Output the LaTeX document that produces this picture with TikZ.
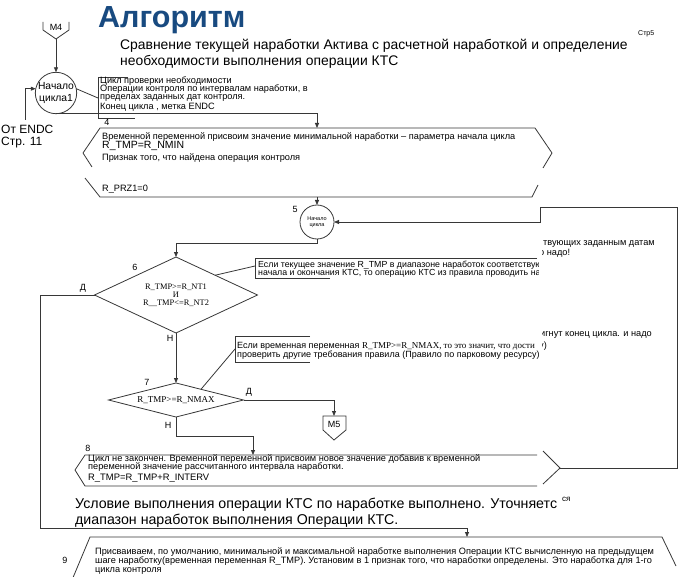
\documentclass[tikz,border=0pt]{standalone}
\usepackage{fontspec}
\setmainfont{Liberation Sans}
\newfontfamily\serifrm{Liberation Serif}
\usetikzlibrary{shapes.geometric,arrows.meta,calc}
\definecolor{ttlblue}{RGB}{24,74,128}
\definecolor{lcol}{RGB}{55,55,55}

\begin{document}
\setlength{\lineskiplimit}{-20pt}
\begin{tikzpicture}[x=1pt,y=-1pt,
  >={Triangle[length=5pt,width=4pt]},
  wire/.style={draw=lcol,line width=0.8pt},
  txt/.style={inner sep=0,anchor=base west,align=left,font=\fontsize{9.2}{8}\selectfont},
  big/.style={inner sep=0,anchor=base west,align=left,font=\fontsize{14.2}{16.5}\selectfont},
  lbl/.style={inner sep=0,font=\fontsize{9}{9}\selectfont},
  crc/.style={circle,wire,inner sep=0,outer sep=0,align=center},
  dec/.style={diamond,wire,inner sep=0,outer sep=0,align=center,
              font=\serifrm\fontsize{8.4}{8}\selectfont}
]
\useasboundingbox (0,0) rectangle (679,577);

% header (multi-line nodes sit on the baseline of their last line)
\node[font=\bfseries\fontsize{30.5}{30}\selectfont,text=ttlblue,inner sep=0,anchor=base west] (ttl) at (98,28) {Алгоритм};
\node[big,font=\fontsize{13.9}{16}\selectfont] (sub) at (120,66)
  {Сравнение текущей наработки Актива с расчетной наработкой и определение\\необходимости выполнения операции КТС};
\node[txt,font=\fontsize{7}{7}\selectfont] (pg) at (638,36) {Стр5};

% M4 and start of cycle 1
\draw[wire] (43,22) -- (43,30) -- (56,39) -- (69,30) -- (69,22);
\node[lbl] (m4) at (56,27) {M4};
\coordinate (m4s) at (56,39);
\node[crc,minimum size=38pt,font=\fontsize{10.3}{11.5}\selectfont] (c1) at (56,93) {Начало\\цикла1};
\draw[wire,->] (m4s) -- (c1);

\draw[wire] (128,77) -- (98,77) -- (98,118) -- (135,118);
\coordinate (a1) at (98,98);
\draw[wire] (c1.12) -- (a1);
\node[txt] (a1t) at (100,110) {Цикл проверки необходимости\\Операции контроля по интервалам наработки, в\\пределах заданных дат контроля.\\[2pt]Конец цикла , метка ENDC};

\coordinate (endc) at (25,120);
\draw[wire,->] (endc) |- (c1.168);
\node[txt,font=\fontsize{12}{12}\selectfont] (from) at (1,146) {От ENDC\\Стр. 11};

% block 4
\coordinate (b4n) at (317,128);
\draw[wire,->] (c1.south) -| (b4n);
\node[lbl] (n4) at (107,122) {4};
\draw[wire] (92,167) -- (83,153) -- (100,128) -- (535,128) -- (552,153) -- (543,168);
\draw[wire] (538,185) -- (532,197) -- (100,197) -- (85,178);
\node[txt] (b4a) at (102,140) {Временной переменной присвоим значение минимальной наработки – параметра начала цикла};
\node[txt,font=\fontsize{10.5}{10}\selectfont] (b4b) at (102,149) {R\_TMP=R\_NMIN};
\node[txt] (b4c) at (102,161) {Признак того, что найдена операция контроля};
\node[txt] (b4d) at (102,192) {R\_PRZ1=0};
\coordinate (b4s) at (317,197);

% cycle 5
\node[crc,minimum size=34pt,font=\fontsize{5.5}{6.5}\selectfont] (c5) at (317,222) {Начало\\цикла};
\node[lbl] (n5) at (295,209) {5};
\draw[wire,->] (b4s) -- (c5);

% decision 6
\node[dec,aspect=2,minimum width=163pt,minimum height=76pt] (d6) at (176,295)
  {R\_TMP>=R\_NT1\\И\\R\_\_TMP<=R\_NT2};
\draw[wire,->] (c5.south) -- ++(0,4) -| (d6.north);
\node[lbl] (n6) at (135,267) {6};
\node[lbl] (y6) at (83,288) {Д};
\node[lbl] (no6) at (170,338) {Н};

\draw[wire] (537,258) -- (255,258) -- (255,278) -- (330,278);
\coordinate (a6) at (255,266);
\draw[wire] ($(d6.north)!0.48!(d6.east)$) -- (a6);

% decision 7
\node[dec,aspect=4,minimum width=135pt,minimum height=34pt,
      font=\serifrm\fontsize{9}{9}\selectfont] (d7) at (176,400) {R\_TMP>=R\_NMAX};
\draw[wire,->] (d6.south) -- (d7.north);
\node[lbl] (n7) at (147,382) {7};
\node[lbl] (y7) at (249,392) {Д};
\node[lbl] (no7) at (168,425) {Н};

\draw[wire] (310,336) -- (235,336) -- (235,362) -- (310,362);
\coordinate (a7) at (235,349);
\draw[wire] ($(d7.north)!0.37!(d7.east)$) -- (a7);

% notes, cut at the right by an overlapping box
\begin{scope}
  \clip (230,255) rectangle (538,370);
  \node[txt,font=\fontsize{8.8}{8}\selectfont] (a6t) at (258,275)
    {Если текущее значение R\_TMP  в диапазоне наработок соответствующих\\начала и окончания КТС, то операцию КТС из правила проводить надо!};
  \node[txt,font=\fontsize{9}{8}\selectfont] (a7a) at (237,348)
    {Если временная переменная {\serifrm R\_TMP>=R\_NMAX, то это значит, что дости}};
  \node[txt,font=\fontsize{9}{8}\selectfont] (a7b) at (237,357)
    {проверить другие требования правила (Правило по парковому ресурсу)};
\end{scope}
\begin{scope}
  \clip (542,230) rectangle (679,360);
  \node[txt] (f1) at (543,245) {твующих заданным датам};
  \node[txt] (f2) at (539,255) {о надо!};
  \node[txt] (f3) at (540,336) {игнут конец цикла. и надо};
  \node[txt] (f4) at (539,348) {у)};
\end{scope}

% M5
\coordinate (m5n) at (334,416);
\draw[wire] (323,416) -- (346,416) -- (346,430) -- (334,440) -- (323,430) -- cycle;
\node[lbl] (m5) at (334,424) {M5};
\draw[wire,->] (d7.east) -| (m5n);

% block 8
\coordinate (b8n) at (253,455);
\draw[wire,->] (d7.south) -- ++(0,19) -| (b8n);
\draw[wire] (537,455) -- (85,455) -- (75,470) -- (85,486) -- (537,486);
\draw[wire] (543,451) -- (560,468) -- (543,484);
\coordinate (b8e) at (560,468);
\node[lbl] (n8) at (88,448) {8};
\node[txt] (b8t) at (88,469) {Цикл не закончен. Временной переменной присвоим новое значение добавив к временной\\переменной значение рассчитанного интервала наработки.};
\node[txt,font=\fontsize{9.4}{10}\selectfont] (b8r) at (88,480) {R\_TMP=R\_TMP+R\_INTERV};

% back to cycle 5
\coordinate (lp1) at (677,207);
\coordinate (lp2) at (540,222);
\draw[wire,->] (b8e) -| (lp1) -| (lp2) -- (c5.east);

% summary
\node[big] (sum) at (75,524.5) {Условие выполнения операции КТС по наработке выполнено. Уточняетс\\диапазон наработок выполнения Операции КТС.};
\node[txt,font=\fontsize{8}{8}\selectfont] (sum2) at (562,501) {ся};

% block 9
\coordinate (dcor) at (40,528);
\coordinate (b9n) at (467,537);
\draw[wire,->] (d6.west) -| (dcor) -| (b9n);
\draw[wire] (72,580) -- (90,537) -- (662,537) -- (676,566);
\node[lbl] (n9) at (65,560) {9};
\node[txt,font=\fontsize{9.2}{9}\selectfont] (b9t) at (95,572) {Присваиваем, по умолчанию,  минимальной и максимальной наработке выполнения Операции КТС вычисленную на предыдущем\\шаге наработку(временная переменная R\_TMP). Установим в 1 признак того, что наработки определены.  Это наработка для 1-го\\цикла контроля};
\end{tikzpicture}
\end{document}
